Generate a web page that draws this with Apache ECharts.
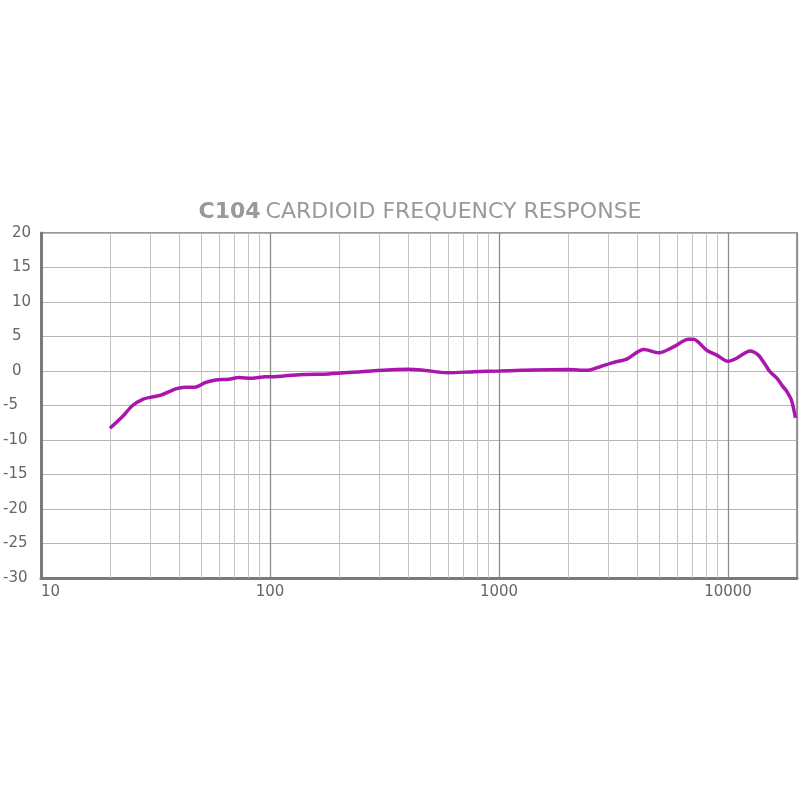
<!DOCTYPE html>
<html>
<head>
<meta charset="utf-8">
<script src="https://cdn.jsdelivr.net/npm/echarts@6/dist/echarts.min.js"></script>
<style>html,body{margin:0;padding:0;background:#fff}#c{width:800px;height:800px}</style>
</head>
<body>
<div id="c"></div>
<script>
// Frequency (Hz) and response (dB)
var freqs = [20, 22.7, 25.1, 27.8, 30.2, 33.4, 38.7, 42.8, 46.9, 52.4, 57.9, 66, 73, 83.5, 95.5, 100, 117, 142, 180, 277, 400, 458, 598, 780, 1000, 1250, 1400, 2000, 2430, 2690, 2780, 3170, 3510, 3630, 4290, 4980, 5780, 6720, 7060, 8070, 8930, 10000, 10900, 12470, 13560, 14480, 15240, 16300, 17400, 18000, 18900, 19700];
var dbs   = [-8.3, -6.6, -5.0, -4.1, -3.8, -3.5, -2.6, -2.35, -2.35, -1.65, -1.3, -1.2, -0.95, -1.05, -0.85, -0.85, -0.7, -0.5, -0.43, 0.0, 0.25, 0.15, -0.25, -0.1, 0.0, 0.1, 0.15, 0.2, 0.1, 0.5, 0.65, 1.25, 1.6, 1.75, 3.1, 2.65, 3.5, 4.6, 4.6, 3.0, 2.3, 1.4, 1.85, 2.9, 2.3, 1.0, -0.1, -1.0, -2.3, -2.9, -4.2, -6.8];
var minorGridFreqs = [20,30,40,50,60,70,80,90,200,300,400,500,600,700,800,900,2000,3000,4000,5000,6000,7000,8000,9000];
var xTickLabels = [10, 100, 1000, 10000];
var titleBold = 'C104';
var titleRest = 'CARDIOID FREQUENCY RESPONSE';

var chart = echarts.init(document.getElementById('c'));
var seriesData = freqs.map(function (f, i) { return [f, dbs[i]]; });

chart.setOption({
  backgroundColor: '#ffffff',
  animation: false,
  title: {
    text: '{b|' + titleBold + '} {n|' + titleRest + '}',
    left: 415, top: 196, textAlign: 'center',
    textStyle: {
      fontWeight: 'normal',
      rich: {
        b: { fontFamily: 'DejaVu Sans', fontSize: 22, fontWeight: 'bold', color: '#999999' },
        n: { fontFamily: 'DejaVu Sans', fontSize: 22, fontWeight: 'normal', color: '#999999' }
      }
    }
  },
  grid: { left: 38, right: 3, top: 233, bottom: 222, show: true, borderColor: '#9a9a9a', borderWidth: 2 },
  xAxis: {
    type: 'log', logBase: 10, min: 10, max: 20000, interval: 1,
    axisLine: { show: true, onZero: false, lineStyle: { color: '#7a7a7a', width: 3 } },
    axisTick: { show: false },
    splitLine: { show: true, lineStyle: { color: '#8c8c8c', width: 1.3 } },
    axisLabel: {
      color: '#666', fontFamily: 'DejaVu Sans', fontSize: 15, margin: 7,
      alignMinLabel: 'left',
      formatter: function (v) { return xTickLabels.indexOf(Math.round(v)) >= 0 ? String(Math.round(v)) : ''; }
    }
  },
  yAxis: {
    type: 'value', min: -30, max: 20, interval: 5,
    axisLine: { show: true, onZero: false, lineStyle: { color: '#7a7a7a', width: 3 } },
    axisTick: { show: false },
    splitLine: { show: true, lineStyle: { color: '#b5b5b5', width: 1 } },
    axisLabel: {
      color: '#666', fontFamily: 'DejaVu Sans', fontSize: 15, margin: 38, align: 'left',
      formatter: function (v) { return v < 0 ? '{d|' + v + '}' : '{p|}{d|' + v + '}'; },
      rich: { p: { width: 9 }, d: { fontFamily: 'DejaVu Sans', fontSize: 15, color: '#666' } }
    }
  },
  series: [{
    type: 'line',
    data: seriesData,
    smooth: 0.3,
    symbol: 'none',
    lineStyle: { color: '#aa16ac', width: 3.5 },
    z: 5,
    markLine: {
      silent: true, symbol: 'none', label: { show: false },
      lineStyle: { color: '#c4c4c4', width: 1, type: 'solid' },
      data: minorGridFreqs.map(function (f) { return { xAxis: f }; }),
      z: 1
    }
  }]
});
</script>
</body>
</html>
